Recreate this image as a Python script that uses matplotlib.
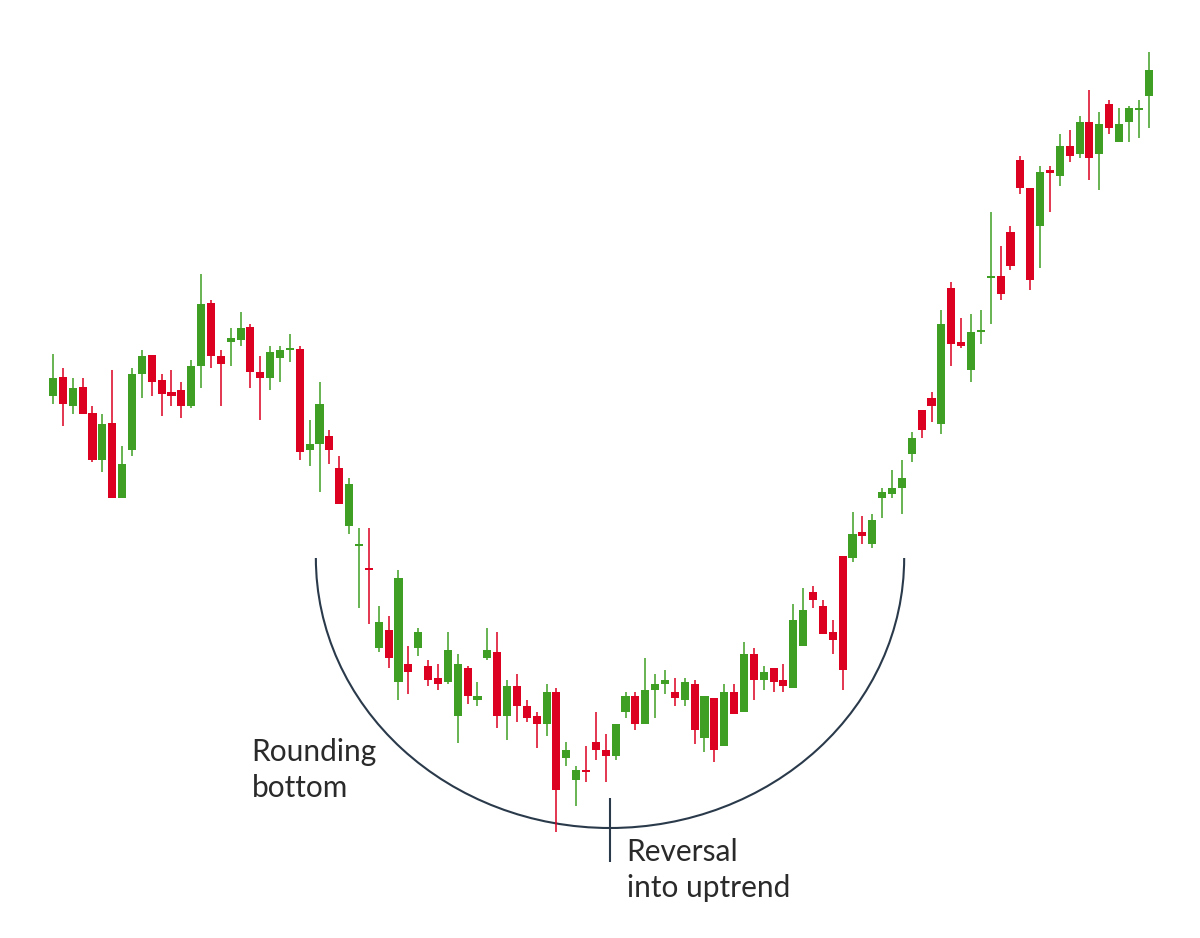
import matplotlib
matplotlib.use('Agg')
import matplotlib.pyplot as plt
from matplotlib.patches import Arc
import numpy as np

# OHLC values (arbitrary price units)
opens = [542, 561, 532, 551, 525, 478, 515, 440, 488, 564, 583, 558, 546, 548, 532, 572,
         635, 582, 596, 598, 611, 566, 560, 580, 588, 589, 488, 494, 502, 470, 412, 392,
         370, 290, 308, 256, 274, 290, 272, 260, 256, 222, 270, 238, 280, 286, 222, 252,
         232, 222, 214, 246, 180, 158, 168, 196, 188, 182, 226, 242, 214, 248, 254, 246,
         238, 254, 200, 240, 192, 246, 226, 284, 258, 270, 258, 250, 292, 346, 332, 306,
         382, 380, 406, 394, 440, 444, 450, 484, 528, 540, 514, 650, 596, 568, 606, 660,
         662, 706, 778, 750, 712, 768, 762, 792, 784, 816, 784, 834, 796, 816, 828, 842]
highs = [584, 570, 560, 560, 532, 524, 568, 492, 570, 588, 583, 564, 568, 556, 578, 664,
         638, 588, 610, 626, 614, 582, 592, 592, 604, 592, 518, 556, 508, 482, 460, 410,
         410, 332, 322, 368, 292, 310, 278, 274, 306, 284, 272, 256, 310, 306, 258, 264,
         238, 226, 254, 250, 196, 172, 192, 226, 204, 214, 246, 246, 280, 264, 268, 260,
         260, 258, 242, 240, 254, 254, 296, 290, 272, 270, 274, 334, 350, 352, 338, 318,
         382, 426, 422, 424, 450, 468, 478, 506, 528, 546, 628, 656, 620, 624, 628, 726,
         692, 712, 782, 750, 772, 772, 804, 808, 822, 848, 826, 838, 830, 832, 838, 886]
lows = [534, 512, 524, 524, 476, 466, 440, 440, 482, 540, 542, 522, 532, 520, 530, 550,
        570, 532, 572, 592, 550, 518, 548, 556, 576, 478, 472, 446, 474, 434, 404, 330,
        314, 286, 270, 238, 244, 282, 252, 248, 254, 195, 234, 232, 278, 210, 198, 216,
        216, 190, 202, 106, 172, 132, 156, 178, 156, 178, 220, 208, 214, 220, 244, 232,
        232, 194, 186, 176, 192, 224, 226, 238, 248, 246, 246, 250, 292, 330, 304, 284,
        248, 376, 394, 390, 420, 440, 424, 476, 500, 516, 504, 572, 590, 556, 594, 614,
        638, 668, 744, 648, 670, 726, 752, 776, 780, 758, 748, 804, 796, 796, 800, 810]
closes = [560, 534, 550, 524, 478, 514, 440, 474, 564, 582, 556, 544, 542, 532, 572, 634,
          582, 574, 600, 610, 566, 560, 586, 588, 590, 486, 494, 534, 488, 434, 454, 394,
          368, 316, 280, 360, 266, 306, 258, 254, 288, 274, 242, 242, 288, 222, 252, 232,
          220, 214, 246, 148, 188, 168, 166, 188, 182, 214, 242, 214, 248, 254, 258, 240,
          256, 208, 242, 188, 246, 224, 284, 258, 266, 256, 252, 318, 328, 338, 304, 298,
          268, 404, 402, 418, 446, 450, 460, 500, 508, 532, 614, 594, 592, 606, 608, 662,
          644, 672, 750, 658, 766, 765, 792, 782, 816, 780, 814, 810, 814, 830, 830, 868]

# annotation anchors (candle index / price)
reversal_idx = 56.43
bowl_rim = 380
bowl_depth = 270
bowl_halfwidth = 29.8

GREEN = '#3f9f25'
RED = '#dc0021'
INK = '#2a3a4b'


def plot_candles(ax):
    idx = np.arange(len(opens))
    o = np.array(opens, dtype=float)
    c = np.array(closes, dtype=float)
    colors = [GREEN if cc >= oo else RED for oo, cc in zip(o, c)]

    ax.vlines(idx, lows, highs, colors=colors, linewidth=1.1, zorder=2)
    bottom = np.minimum(o, c)
    height = np.maximum(np.abs(c - o), 2)
    ax.bar(idx, height, bottom=bottom, width=0.82, color=colors,
           linewidth=0, zorder=3)


def plot_annotations(ax):
    bowl = Arc((reversal_idx, bowl_rim), 2 * bowl_halfwidth, 2 * bowl_depth,
               theta1=180, theta2=360, color=INK, linewidth=1.5, zorder=1)
    ax.add_patch(bowl)
    ax.vlines(reversal_idx, 76, 140, color=INK, linewidth=1.5, zorder=1)

    style = dict(fontsize=21.5, color='#2a2a2a', family=['Lato', 'DejaVu Sans'],
                 va='baseline', ha='left')
    ax.text(20.1, 177, 'Rounding', **style)
    ax.text(20.1, 141, 'bottom', **style)
    ax.text(58.1, 77, 'Reversal', **style)
    ax.text(58.1, 41, 'into uptrend', **style)


def main():
    fig = plt.figure(figsize=(12, 9.38), dpi=100)
    ax = fig.add_axes([0, 0, 1, 1])
    plot_candles(ax)
    plot_annotations(ax)
    ax.set_xlim(-5.37, 116.2)
    ax.set_ylim(0, 938)
    ax.set_axis_off()
    fig.savefig('out.png', dpi=100, facecolor='white')


if __name__ == '__main__':
    main()
